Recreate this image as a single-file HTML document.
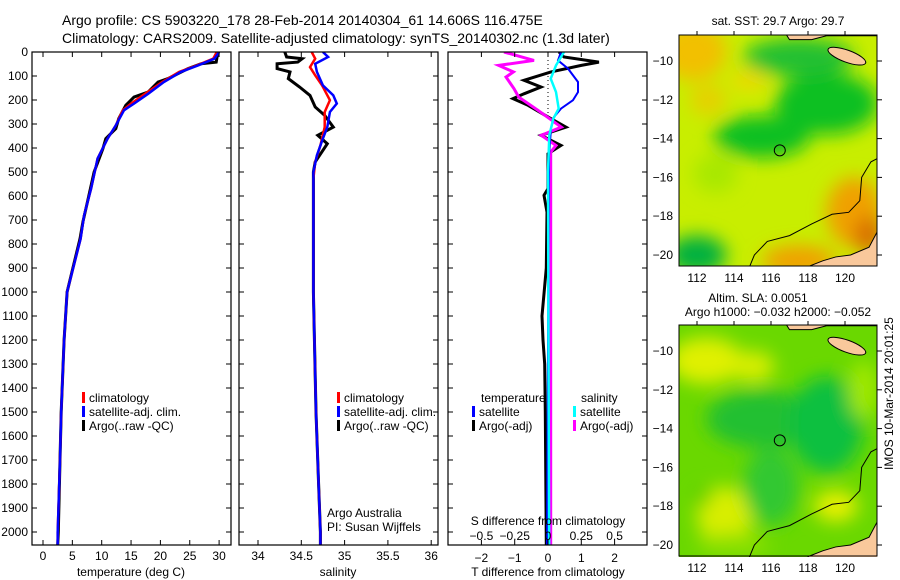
<!DOCTYPE html>
<html><head><meta charset="utf-8"><style>
html,body{margin:0;padding:0;background:#fff;}
svg{display:block;font-family:"Liberation Sans",sans-serif;}
</style></head><body>
<svg id="fig" width="900" height="580" viewBox="0 0 900 580">
<defs>
<clipPath id="clipT"><rect x="32" y="52" width="199" height="493"/></clipPath>
<clipPath id="clipS"><rect x="239" y="52" width="199" height="493"/></clipPath>
<clipPath id="clipD"><rect x="448" y="52" width="199" height="493"/></clipPath>
<clipPath id="clipM1"><rect x="679" y="35" width="198" height="231"/></clipPath>
<clipPath id="clipM2"><rect x="679" y="325" width="198" height="232"/></clipPath>
<filter id="blur1" x="-50%" y="-50%" width="200%" height="200%"><feGaussianBlur stdDeviation="9"/></filter>
</defs>
<text x="62" y="25" font-size="14">Argo profile: CS 5903220_178 28-Feb-2014 20140304_61 14.606S 116.475E</text>
<text x="62" y="43" font-size="14">Climatology: CARS2009. Satellite-adjusted climatology: synTS_20140302.nc (1.3d later)</text>
<g id="g1"></g><g id="g2"></g><g id="g3"></g><g id="maps"></g>
<text transform="translate(893,470) rotate(-90)" font-size="12">IMOS 10-Mar-2014 20:01:25</text>
</svg>
<script>
// ---- data ----
const tDepthArgo=[0,42,49,69,111,125,167,188,222,278,319,361,403,500,611,708,778,1000,1200,1500,1700,2000,2054];
const tArgo=[29.8,29.5,26.9,24.7,21.3,19.6,17.9,15.5,14.1,12.9,12.4,10.7,10.2,8.7,7.7,6.8,6.3,4.1,3.6,3.1,2.9,2.6,2.5];
const tDepthClim=[0,28,56,83,125,174,215,243,306,361,444,569,681,778,1000,1200,1500,1700,2000,2054];
const tClim=[29.6,29.0,26.2,23.2,20.3,17.4,15.0,13.6,12.4,11.0,9.3,8.2,7.0,6.4,4.1,3.6,3.1,2.9,2.5,2.5];
const tSat=[30.0,29.2,26.4,23.5,20.6,17.9,15.5,13.8,12.4,11.0,9.3,8.2,7.0,6.4,4.1,3.6,3.1,2.9,2.5,2.5];
const sDepthArgo=[0,21,28,42,49,69,83,111,146,181,229,264,313,347,382,458,500,778,1000,1500,1800,2000,2054];
const sArgo=[34.31,34.33,34.51,34.46,34.22,34.22,34.37,34.35,34.48,34.60,34.66,34.77,34.87,34.69,34.80,34.66,34.64,34.64,34.64,34.67,34.70,34.72,34.72];
const sDepthClim=[0,28,63,97,139,201,250,313,389,458,528,800,1000,1500,1800,2000,2054];
const sClim=[34.62,34.66,34.60,34.66,34.74,34.83,34.77,34.77,34.72,34.66,34.64,34.64,34.64,34.67,34.70,34.72,34.72];
const sDepthSat=[0,21,49,83,139,181,215,250,313,361,431,500,800,1000,1500,1800,2000,2054];
const sSat=[34.75,34.81,34.66,34.68,34.75,34.87,34.91,34.83,34.80,34.75,34.68,34.64,34.64,34.64,34.67,34.70,34.72,34.72];
const dTDepthArgo=[0,21,42,56,83,118,146,174,194,222,278,313,347,389,424,569,597,667,900,1100,1200,1300,1500,2054];
const dTArgo=[0.33,0.48,1.53,1.0,0.09,-0.72,-0.21,-0.72,-1.05,-0.6,0.09,0.54,-0.21,0.39,0,0,-0.12,-0.03,-0.05,-0.18,-0.15,-0.1,-0.08,-0.05];
const dTDepthSat=[0,35,69,125,167,201,236,271,319,431,2054];
const dTSat=[0.39,0.3,0.6,0.9,0.9,0.75,0.39,0.18,0.09,0.03,-0.03];
const dSDepthArgo=[0,35,56,83,104,153,188,243,313,347,389,417,2054];
const dSArgo=[-0.33,-0.105,-0.37,-0.26,-0.315,-0.255,-0.22,-0.075,0.1,-0.05,0.06,0.02,0.02];
const dSDepthSat=[0,56,111,167,236,278,347,500,2054];
const dSSat=[0.12,0.06,0.02,0.06,0.08,0.04,0.01,0,0.008];
const depthTicks=[0,100,200,300,400,500,600,700,800,900,1000,1100,1200,1300,1400,1500,1600,1700,1800,1900,2000];
const tTicks=[0,5,10,15,20,25,30];
const sTicks=[34,34.5,35,35.5,36];
const sTickLabels=["34","34.5","35","35.5","36"];
const dTTicks=[-2,-1,0,1,2];
const dSTicks=[-0.5,-0.25,0,0.25,0.5];
const dSTickLabels=["\u22120.5","\u22120.25","0","0.25","0.5"];
const dTTickLabels=["\u22122","\u22121","0","1","2"];
const latTicks=[-10,-12,-14,-16,-18,-20];
const lonTicks=[112,114,116,118,120];
const argoLon=116.475, argoLat=-14.606;

// ---- scales ----
const Y=d=>52+d*0.24;
const XT=t=>43+t*5.87;
const XS=s=>258+(s-34)*86.6;
const XD=v=>548+v*33.3;        // T difference
const XDS=v=>548+v*4*33.3;     // S difference
const NS="http://www.w3.org/2000/svg";
function el(parent,tag,attrs,txt){const e=document.createElementNS(NS,tag);for(const k in attrs)e.setAttribute(k,attrs[k]);if(txt!==undefined)e.textContent=txt;parent.appendChild(e);return e;}
function line(parent,xs,ds,fx,color,w,name,clip){
  const pts=xs.map((v,i)=>fx(v).toFixed(1)+","+Y(ds[i]).toFixed(1)).join(" ");
  const p=el(parent,"polyline",{points:pts,fill:"none",stroke:color,"stroke-width":w,"clip-path":"url(#"+clip+")"});
  
  
}
function frame(parent,x,w,name){
  const r=el(parent,"rect",{x:x,y:52,width:w,height:493,fill:"none",stroke:"#000","stroke-width":1.2});
  
  
}
function xticks(parent,ticks,labels,fx,x0,x1,ly,name){
  ticks.forEach((t,i)=>{const x=fx(t);
    el(parent,"line",{x1:x,y1:52,x2:x,y2:57,stroke:"#000"});
    el(parent,"line",{x1:x,y1:545,x2:x,y2:540,stroke:"#000"});
    const tx=el(parent,"text",{x:x,y:ly,"font-size":12,"text-anchor":"middle"},labels[i]);
    
    
  });
}
function yticks(parent,x0,x1,withLabels){
  depthTicks.forEach(d=>{const y=Y(d);
    el(parent,"line",{x1:x0,y1:y,x2:x0+5,y2:y,stroke:"#000"});
    el(parent,"line",{x1:x1,y1:y,x2:x1-5,y2:y,stroke:"#000"});
    if(withLabels){const t=el(parent,"text",{x:28,y:y+4,"font-size":12,"text-anchor":"end"},String(d));
      
      }
  });
}
function legend(parent,x,y,color,label,name){
  el(parent,"rect",{x:x,y:y-10,width:3,height:11,fill:color});
  const t=el(parent,"text",{x:x+7,y:y,"font-size":12},label);
  
  
}
// ---- panel 1 ----
const g1=document.getElementById("g1");
line(g1,tArgo,tDepthArgo,XT,"#000",3,"temp-argo-line","clipT");
line(g1,tClim,tDepthClim,XT,"#f00",2.5,"temp-climatology-line","clipT");
line(g1,tSat,tDepthClim,XT,"#00f",2.5,"temp-satellite-line","clipT");
frame(g1,32,199,"temperature-panel-frame");
yticks(g1,32,231,true);
xticks(g1,tTicks,tTicks.map(String),XT,32,231,560,"temp-tick-label");
let t1=el(g1,"text",{x:131,y:576,"font-size":12,"text-anchor":"middle"},"temperature (deg C)");

legend(g1,82,402,"#f00","climatology","legend-climatology");
legend(g1,82,416,"#00f","satellite-adj. clim.","legend-satellite");
legend(g1,82,430,"#000","Argo(..raw -QC)","legend-argo");
// ---- panel 2 ----
const g2=document.getElementById("g2");
line(g2,sArgo,sDepthArgo,XS,"#000",3,"sal-argo-line","clipS");
line(g2,sClim,sDepthClim,XS,"#f00",2.5,"sal-climatology-line","clipS");
line(g2,sSat,sDepthSat,XS,"#00f",2.5,"sal-satellite-line","clipS");
frame(g2,239,199,"salinity-panel-frame");
yticks(g2,239,438,false);
xticks(g2,sTicks,sTickLabels,XS,239,438,560,"sal-tick-label");
let t2=el(g2,"text",{x:338,y:576,"font-size":12,"text-anchor":"middle"},"salinity");

legend(g2,337,402,"#f00","climatology","legend-climatology");
legend(g2,337,416,"#00f","satellite-adj. clim.","legend-satellite");
legend(g2,337,430,"#000","Argo(..raw -QC)","legend-argo");
let a1=el(g2,"text",{x:327,y:517,"font-size":12},"Argo Australia");
let a2=el(g2,"text",{x:327,y:531,"font-size":12},"PI: Susan Wijffels");
// ---- panel 3 ----
const g3=document.getElementById("g3");
el(g3,"line",{x1:548,y1:52,x2:548,y2:Y(260),stroke:"#000","stroke-dasharray":"1,3"});
line(g3,dTArgo,dTDepthArgo,XD,"#000",3,"tdiff-argo-line","clipD");
line(g3,dSArgo,dSDepthArgo,XDS,"#f0f",3,"sdiff-argo-line","clipD");
line(g3,dTSat,dTDepthSat,XD,"#00f",2,"tdiff-satellite-line","clipD");
line(g3,dSSat,dSDepthSat,XDS,"#0ff",2.5,"sdiff-satellite-line","clipD");
frame(g3,448,199,"difference-panel-frame");
yticks(g3,448,647,false);
dTTicks.forEach(t=>{const x=XD(t);el(g3,"line",{x1:x,y1:52,x2:x,y2:57,stroke:"#000"});el(g3,"line",{x1:x,y1:545,x2:x,y2:540,stroke:"#000"});});
dTTicks.forEach((t,i)=>{const e=el(g3,"text",{x:XD(t),y:562,"font-size":12,"text-anchor":"middle"},dTTickLabels[i]);});
dSTicks.forEach((t,i)=>{const e=el(g3,"text",{x:XDS(t),y:540,"font-size":12,"text-anchor":"middle"},dSTickLabels[i]);});
let t3=el(g3,"text",{x:548,y:525,"font-size":12,"text-anchor":"middle"},"S difference from climatology");
let t4=el(g3,"text",{x:548,y:576,"font-size":12,"text-anchor":"middle"},"T difference from climatology");
let l1=el(g3,"text",{x:481,y:402,"font-size":12},"temperature");
let l2=el(g3,"text",{x:581,y:402,"font-size":12},"salinity");
legend(g3,472,416,"#00f","satellite","legend-t-satellite");
legend(g3,472,430,"#000","Argo(-adj)","legend-t-argo");
legend(g3,573,416,"#0ff","satellite","legend-s-satellite");
legend(g3,573,430,"#f0f","Argo(-adj)","legend-s-argo");
// ---- maps ----
const gm=document.getElementById("maps");
const LX=lon=>697+(lon-112)*18.5;
function drawMap(top,latY,clip,blobs,name,title1,title2){
  const LY=lat=>latY+(-10-lat)*19.4;
  const g=el(gm,"g",{"clip-path":"url(#"+clip+")"});
  
  
  el(g,"rect",{x:679,y:top,width:198,height:232,fill:blobs.base});
  const b=el(g,"g",{filter:"url(#blur1)"});
  blobs.list.forEach(o=>el(b,"ellipse",{cx:LX(o[0]),cy:LY(o[1]),rx:o[2]*18.5,ry:o[3]*19.4,fill:o[4]}));
  // land
  const land="M"+LX(121.8)+","+LY(-18.7)+" L"+LX(121.3)+","+LY(-19.6)+" L"+LX(120.3)+","+LY(-20)+" L"+LX(119.5)+","+LY(-20.1)+" L"+LX(118.8)+","+LY(-20.3)+" L"+LX(118)+","+LY(-20.6)+" L"+LX(118)+","+LY(-21)+" L"+LX(122)+","+LY(-21)+" Z";
  el(g,"path",{d:land,fill:"#f9c89b",stroke:"#000","stroke-width":1});
  el(g,"ellipse",{cx:LX(120.1),cy:LY(-9.75),rx:20,ry:6,transform:"rotate(20 "+LX(120.1)+" "+LY(-9.75)+")",fill:"#f9c89b",stroke:"#000","stroke-width":1});
  el(g,"path",{d:"M"+LX(116.8)+","+LY(-8.6)+" L"+LX(117)+","+LY(-8.9)+" L"+LX(118.2)+","+LY(-8.9)+" L"+LX(119)+","+LY(-8.7)+" L"+LX(121.8)+","+LY(-8.7)+" L"+LX(121.8)+","+LY(-8.5)+" Z",fill:"#f9c89b",stroke:"#000","stroke-width":1});
  const coast="M"+LX(121.8)+","+LY(-15)+" L"+LX(121.4)+","+LY(-15.2)+" L"+LX(120.9)+","+LY(-16)+" L"+LX(120.8)+","+LY(-17.2)+" L"+LX(120.2)+","+LY(-17.8)+" L"+LX(119.3)+","+LY(-17.9)+" L"+LX(118.2)+","+LY(-18.4)+" L"+LX(117)+","+LY(-19)+" L"+LX(115.8)+","+LY(-19.3)+" L"+LX(115.1)+","+LY(-20)+" L"+LX(114.8)+","+LY(-20.7);
  el(g,"path",{d:coast,fill:"none",stroke:"#000","stroke-width":1});
  const c=el(g,"circle",{cx:LX(argoLon),cy:LY(argoLat),r:5.5,fill:"none",stroke:"#000","stroke-width":1});
  
  
  el(gm,"rect",{x:679,y:top,width:198,height:231,fill:"none",stroke:"#000"});
  latTicks.forEach(l=>{const y=LY(l);el(gm,"line",{x1:877,y1:y,x2:882,y2:y,stroke:"#000"});
    const t=el(gm,"text",{x:673,y:y+4,"font-size":12,"text-anchor":"end"},"\u2212"+(-l));});
  lonTicks.forEach(l=>{const x=LX(l);el(gm,"line",{x1:x,y1:top,x2:x,y2:top-4,stroke:"#000"});
    const t=el(gm,"text",{x:x,y:top+247,"font-size":12,"text-anchor":"middle"},String(l));});
}
drawMap(35,61,"clipM1",{base:"#c8ee00",list:[
 [111.8,-9.5,1.8,1.5,"#f2c000"],[112.6,-12,1,0.8,"#e6d000"],[115.5,-13.9,2.6,1.1,"#10c020"],[119,-12.2,2.8,1.6,"#10c020"],[117.5,-9.8,3,1,"#20c030"],
 [114.8,-11,1,0.5,"#f0d800"],[112,-20,1.6,1,"#00b040"],[120.5,-17.8,1.5,1.8,"#f0a000"],[117.5,-20.3,2,0.8,"#f0a000"],[121.3,-19,0.8,1,"#d87000"],[113,-15.8,1.2,1,"#a8e800"]]},
 "sst-map","","");
drawMap(325,351,"clipM2",{base:"#6ad800",list:[
 [112.5,-10.5,2,1.2,"#e0f000"],[115,-10.8,1.2,0.8,"#d8ee00"],[115.5,-13.5,3,1.5,"#20c030"],[118.8,-13.2,1,1.2,"#00c880"],[119,-13.8,2,2.5,"#10c040"],
 [113.5,-18.5,1.5,1.5,"#d8ee00"],[112.3,-17.5,0.5,0.5,"#60d000"],[119.5,-18,1.2,0.8,"#e8f000"],[116,-17,1.5,2,"#30c830"],[121,-12,0.8,1.5,"#a0e800"],[114,-20,2,0.6,"#8ae000"]]},
 "sla-map","","");
const mt=[["sat. SST: 29.7 Argo: 29.7",778,25,"sst-map-title"],["Altim. SLA: 0.0051",758,302,"sla-map-title"],["Argo h1000: \u22120.032 h2000: \u22120.052",778,316,"argo-height-title"]];
mt.forEach(m=>{const t=el(gm,"text",{x:m[1],y:m[2],"font-size":12,"text-anchor":"middle"},m[0]);});
</script>
</body></html>
